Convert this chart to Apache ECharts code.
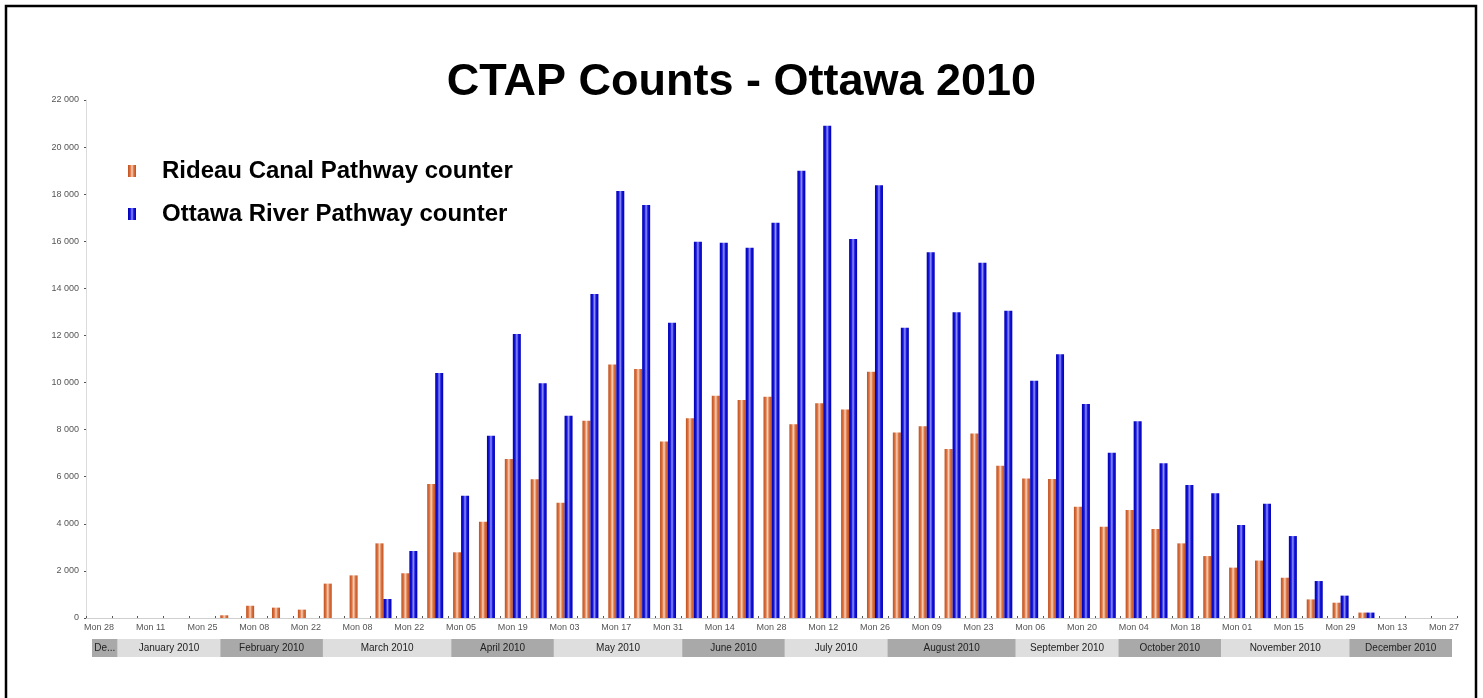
<!DOCTYPE html>
<html>
<head>
<meta charset="utf-8">
<script src="https://cdn.jsdelivr.net/npm/echarts@6/dist/echarts.min.js"></script>
<style>
html,body{margin:0;padding:0;background:#fff;}
#c{width:1483px;height:698px;}
</style>
</head>
<body>
<div id="c"></div>
<script>
// Week categories (Mondays, Dec 28 2009 .. Dec 27 2010)
var weekLabels = ['Mon 28','Mon 04','Mon 11','Mon 18','Mon 25','Mon 01','Mon 08','Mon 15','Mon 22',
  'Mon 01','Mon 08','Mon 15','Mon 22','Mon 29','Mon 05','Mon 12','Mon 19','Mon 26',
  'Mon 03','Mon 10','Mon 17','Mon 24','Mon 31','Mon 07','Mon 14','Mon 21','Mon 28',
  'Mon 05','Mon 12','Mon 19','Mon 26','Mon 02','Mon 09','Mon 16','Mon 23','Mon 30',
  'Mon 06','Mon 13','Mon 20','Mon 27','Mon 04','Mon 11','Mon 18','Mon 25',
  'Mon 01','Mon 08','Mon 15','Mon 22','Mon 29','Mon 06','Mon 13','Mon 20','Mon 27'];

var rideauCanal = [0,0,0,0,0,115,520,440,355,
  1460,1810,3170,1900,5690,2790,4090,6750,5890,
  4900,8380,10770,10575,7500,8480,9440,9260,9400,
  8225,9120,8860,10460,7880,8140,7180,7840,6470,
  5920,5900,4730,3880,4590,3780,3170,2630,
  2140,2440,1710,790,650,230,0,0,0];

var ottawaRiver = [0,0,0,0,0,0,0,0,0,
  0,0,807,2845,10405,5195,7745,12060,9970,
  8590,13760,18135,17540,12540,15980,15940,15730,16790,
  19000,20910,16100,18380,12330,15530,12990,15090,13050,
  10080,11200,9090,7020,8360,6570,5650,5295,
  3950,4855,3480,1570,950,230,0,0,0];

// Month band (weeks grouped by month of their Monday)
var monthNames = ['December 2009','January 2010','February 2010','March 2010','April 2010','May 2010',
  'June 2010','July 2010','August 2010','September 2010','October 2010','November 2010','December 2010'];
var monthWeeks = [1,4,4,5,4,5,4,4,5,4,4,5,4];

var yTicks = {min:0, max:22000, interval:2000};

var bandData = [];
var acc = 0;
for (var i = 0; i < monthWeeks.length; i++) {
  bandData.push([acc, acc + monthWeeks[i], i]);
  acc += monthWeeks[i];
}

var FONT = 'Liberation Sans, Arial, Helvetica, sans-serif';

var orangeGrad = new echarts.graphic.LinearGradient(0,0,1,0,[
  {offset:0,color:'#c0501e'},{offset:0.28,color:'#dc7442'},{offset:0.5,color:'#f8d2bb'},
  {offset:0.72,color:'#dc7442'},{offset:1,color:'#c0501e'}]);
var blueGrad = new echarts.graphic.LinearGradient(0,0,1,0,[
  {offset:0,color:'#0000b4'},{offset:0.28,color:'#1414d8'},{offset:0.5,color:'#9090ff'},
  {offset:0.72,color:'#1414d8'},{offset:1,color:'#0000b4'}]);

function fmtY(v){
  if (v < 1000) return String(v);
  var r = String(v % 1000);
  while (r.length < 3) r = '0' + r;
  return Math.floor(v/1000) + ' ' + r;
}

var chart = echarts.init(document.getElementById('c'));
chart.setOption({
  backgroundColor:'#fff',
  animation:false,
  title:{
    text:'CTAP Counts - Ottawa 2010',
    left:'center', top:55,
    textStyle:{fontFamily:FONT, fontWeight:'bold', fontSize:45, color:'#000'}
  },
  legend:{
    orient:'vertical', left:128, top:159, padding:0,
    itemWidth:8, itemHeight:12, itemGap:19,
    icon:'rect',
    textStyle:{fontFamily:FONT, fontWeight:'bold', fontSize:24, color:'#000', padding:[0,0,0,21]},
    data:['Rideau Canal Pathway counter','Ottawa River Pathway counter']
  },
  graphic:[{
    type:'rect', shape:{x:6, y:6, width:1470, height:800},
    style:{fill:'none', stroke:'#000', lineWidth:2.5}, silent:true
  }],
  grid:[
    {left:86, right:26, top:100, bottom:80},
    {left:92, right:31, top:639, height:18}
  ],
  xAxis:[
    {type:'category', gridIndex:0, data:weekLabels, boundaryGap:true,
     axisLine:{lineStyle:{color:'#cfcfcf', width:1}},
     axisTick:{show:true, inside:true, length:2, interval:0, lineStyle:{color:'#555'}},
     axisLabel:{interval:1, fontFamily:FONT, fontSize:9, color:'#555', margin:5},
     splitLine:{show:false}},
    {type:'value', gridIndex:1, min:0, max:53, show:false}
  ],
  yAxis:[
    {type:'value', gridIndex:0, min:yTicks.min, max:yTicks.max, interval:yTicks.interval,
     axisLine:{show:true, lineStyle:{color:'#dcdcdc'}},
     axisTick:{show:true, length:2, lineStyle:{color:'#555'}},
     axisLabel:{formatter:fmtY, fontFamily:FONT, fontSize:9, color:'#555', margin:7},
     splitLine:{show:false}},
    {type:'value', gridIndex:1, min:0, max:1, show:false}
  ],
  series:[
    {name:'Rideau Canal Pathway counter', type:'bar', xAxisIndex:0, yAxisIndex:0,
     data:rideauCanal, barWidth:8, barGap:'0%',
     itemStyle:{color:orangeGrad}},
    {name:'Ottawa River Pathway counter', type:'bar', xAxisIndex:0, yAxisIndex:0,
     data:ottawaRiver, barWidth:8, barGap:'0%',
     itemStyle:{color:blueGrad}},
    {type:'custom', xAxisIndex:1, yAxisIndex:1, data:bandData, silent:true,
     renderItem:function(params, api){
       var s = api.coord([api.value(0), 1]);
       var e = api.coord([api.value(1), 0]);
       var idx = api.value(2);
       var w = e[0]-s[0];
       return {type:'group', children:[
         {type:'rect', shape:{x:s[0], y:s[1], width:w, height:e[1]-s[1]},
          style:{fill: idx % 2 === 0 ? '#a9a9a9' : '#dedede'}},
         {type:'text', style:{text:monthNames[idx], x:(s[0]+e[0])/2, y:(s[1]+e[1])/2,
          align:'center', verticalAlign:'middle', fill:'#222',
          font:'10px ' + FONT, width:w, overflow:'truncate', ellipsis:'...'}}
       ]};
     }}
  ]
});
</script>
</body>
</html>
